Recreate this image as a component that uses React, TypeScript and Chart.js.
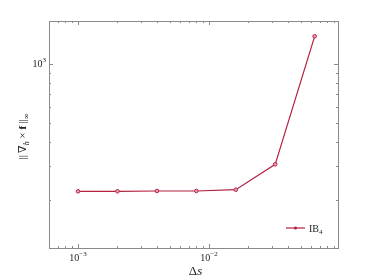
import React, { useEffect, useRef } from "react";
import { Chart, registerables } from "chart.js";

Chart.register(...registerables);

const dsValues = [0.001, 0.002, 0.004, 0.008, 0.016, 0.032, 0.064];
const errValues = [222.5, 222.5, 223.3, 223.3, 226.7, 306, 1387];
const seriesLabel = "IB";
const seriesSub = "4";
const xMajorExps = [-3, -2];
const yMajorExps = [3];
const xTitle = "Δ";
const xTitleItalic = "s";

const LINE = "#b3213f";
const AXIS = "#8a8a8a";
const FONT = "'Liberation Serif', 'DejaVu Serif', serif";

function drawPow(ctx: CanvasRenderingContext2D, exp: number, x: number, y: number, align: "center" | "right") {
  const base = "10";
  const sup = exp < 0 ? "\u2212" + Math.abs(exp) : String(exp);
  ctx.font = `10px ${FONT}`;
  const wb = ctx.measureText(base).width;
  ctx.font = `7px ${FONT}`;
  const ws = ctx.measureText(sup).width;
  const total = wb + ws;
  const x0 = align === "center" ? x - total / 2 : x - total;
  ctx.textAlign = "left";
  ctx.textBaseline = "alphabetic";
  ctx.fillStyle = "#222";
  ctx.font = `10px ${FONT}`;
  ctx.fillText(base, x0, y);
  ctx.font = `7px ${FONT}`;
  ctx.fillText(sup, x0 + wb, y - 5);
}

const framePlugin = {
  id: "frame",
  afterDraw(chart: any) {
    const ctx: CanvasRenderingContext2D = chart.ctx;
    const a = chart.chartArea;
    const xs = chart.scales.x;
    const ys = chart.scales.y;
    ctx.save();
    ctx.strokeStyle = AXIS;
    ctx.lineWidth = 1;
    ctx.strokeRect(Math.round(a.left) + 0.5, Math.round(a.top) + 0.5, Math.round(a.right - a.left), Math.round(a.bottom - a.top));

    ctx.beginPath();
    for (let e = -5; e <= 1; e++) {
      for (let m = 1; m <= 9; m++) {
        const v = m * Math.pow(10, e);
        if (v < xs.min || v > xs.max) continue;
        const px = Math.round(xs.getPixelForValue(v)) + 0.5;
        const len = m === 1 ? 4 : 2;
        ctx.moveTo(px, a.bottom);
        ctx.lineTo(px, a.bottom - len);
        ctx.moveTo(px, a.top);
        ctx.lineTo(px, a.top + len);
      }
    }
    for (let e = 0; e <= 5; e++) {
      for (let m = 1; m <= 9; m++) {
        const v = m * Math.pow(10, e);
        if (v < ys.min || v > ys.max) continue;
        const py = Math.round(ys.getPixelForValue(v)) + 0.5;
        const len = m === 1 ? 4 : 2;
        ctx.moveTo(a.left, py);
        ctx.lineTo(a.left + len, py);
        ctx.moveTo(a.right, py);
        ctx.lineTo(a.right - len, py);
      }
    }
    ctx.stroke();

    for (const e of xMajorExps) {
      const px = xs.getPixelForValue(Math.pow(10, e));
      drawPow(ctx, e, px, a.bottom + 13, "center");
    }
    for (const e of yMajorExps) {
      const py = ys.getPixelForValue(Math.pow(10, e));
      drawPow(ctx, e, a.left - 3, py + 3, "right");
    }

    ctx.fillStyle = "#222";
    ctx.textBaseline = "alphabetic";
    ctx.textAlign = "left";
    ctx.font = `13px ${FONT}`;
    const w1 = ctx.measureText(xTitle).width;
    ctx.font = `italic 13px ${FONT}`;
    const w2 = ctx.measureText(xTitleItalic).width;
    const cx = (a.left + a.right) / 2 + 2;
    const tx = cx - (w1 + w2) / 2;
    ctx.font = `13px ${FONT}`;
    ctx.fillText(xTitle, tx, 275);
    ctx.font = `italic 13px ${FONT}`;
    ctx.fillText(xTitleItalic, tx + w1, 275);

    const parts: [string, string, number][] = [
      ["||\u2009\u2207", `11px ${FONT}`, 0],
      ["h", `italic 8px ${FONT}`, 3],
      [" \u00d7 ", `11px ${FONT}`, 0],
      ["f", `bold 11px ${FONT}`, 0],
      ["\u2009||", `11px ${FONT}`, 0],
      ["\u221e", `8px ${FONT}`, 3],
    ];
    let total = 0;
    for (const p of parts) {
      ctx.font = p[1];
      total += ctx.measureText(p[0]).width;
    }
    ctx.save();
    ctx.translate(26, (a.top + a.bottom) / 2 + 2);
    ctx.rotate(-Math.PI / 2);
    let px0 = -total / 2;
    for (const p of parts) {
      ctx.font = p[1];
      ctx.fillText(p[0], px0, p[2]);
      px0 += ctx.measureText(p[0]).width;
    }
    ctx.restore();

    const ly = a.bottom - 20;
    const lx0 = a.right - 52;
    ctx.strokeStyle = LINE;
    ctx.lineWidth = 1.2;
    ctx.beginPath();
    ctx.moveTo(lx0, ly);
    ctx.lineTo(lx0 + 19, ly);
    ctx.stroke();
    ctx.beginPath();
    ctx.arc(lx0 + 9.5, ly, 1.6, 0, Math.PI * 2);
    ctx.fillStyle = LINE;
    ctx.fill();
    ctx.fillStyle = "#222";
    ctx.font = `10px ${FONT}`;
    ctx.fillText(seriesLabel, lx0 + 23, ly + 3.5);
    const wl = ctx.measureText(seriesLabel).width;
    ctx.font = `7px ${FONT}`;
    ctx.fillText(seriesSub, lx0 + 23 + wl, ly + 6);
    ctx.restore();
  },
};

export default function App() {
  const ref = useRef<HTMLCanvasElement>(null);
  useEffect(() => {
    document.body.style.margin = "0";
    const canvas = ref.current!;
    const chart = new Chart(canvas, {
      type: "line",
      data: {
        datasets: [
          {
            label: seriesLabel + seriesSub,
            data: dsValues.map((x, i) => ({ x, y: errValues[i] })),
            borderColor: LINE,
            borderWidth: 1.2,
            pointRadius: 1.8,
            pointBorderWidth: 1,
            pointBackgroundColor: "#e7a3b4",
            pointBorderColor: LINE,
            tension: 0,
          },
        ],
      },
      options: {
        responsive: false,
        animation: false,
        layout: { padding: { left: 49, right: 36, top: 21, bottom: 32 } },
        plugins: { legend: { display: false }, tooltip: { enabled: false } },
        scales: {
          x: { type: "logarithmic", min: 6.01e-4, max: 0.0965, display: false },
          y: { type: "logarithmic", min: 113.9, max: 1662, display: false },
        },
      },
      plugins: [framePlugin],
    });
    return () => chart.destroy();
  }, []);
  return <canvas ref={ref} width={374} height={280} style={{ display: "block" }} />;
}
